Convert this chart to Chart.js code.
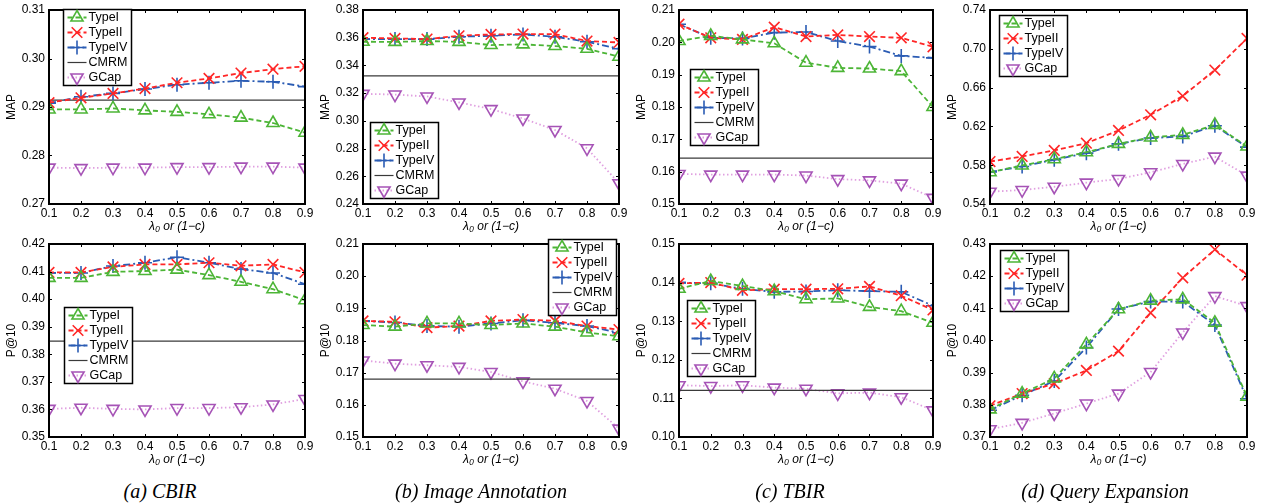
<!DOCTYPE html>
<html>
<head>
<meta charset="utf-8">
<script src="https://cdn.jsdelivr.net/npm/chart.js@4.4.1/dist/chart.umd.min.js"></script>
<style>
    body { margin: 0; width: 1266px; height: 504px; background: #fff; position: relative; overflow: hidden; }
    canvas { position: absolute; }
    .cap { position: absolute; top: 481px; font: italic 20px "Liberation Serif", "Times New Roman", serif; line-height: 1; transform: translateX(-50%); white-space: nowrap; color: #000; }
</style>
</head>
<body>
<script>
// x positions (lambda_0 or 1-c)
const xValues = [0.1, 0.2, 0.3, 0.4, 0.5, 0.6, 0.7, 0.8, 0.9];
const xTicks = [0.1, 0.2, 0.3, 0.4, 0.5, 0.6, 0.7, 0.8, 0.9];
const captions = ['(a) CBIR', '(b) Image Annotation', '(c) TBIR', '(d) Query Expansion'];

// (a) CBIR - MAP
const cbirMapTicks = [0.27, 0.28, 0.29, 0.30, 0.31];
const cbirMapTypeI = [0.2895, 0.2895, 0.2897, 0.2893, 0.2890, 0.2885, 0.2878, 0.2867, 0.2847];
const cbirMapTypeII = [0.2909, 0.2919, 0.2928, 0.2938, 0.2950, 0.2959, 0.2970, 0.2978, 0.2984];
const cbirMapTypeIV = [0.2908, 0.2921, 0.2928, 0.2937, 0.2946, 0.2950, 0.2954, 0.2952, 0.2942];
const cbirMapCMRM = 0.2914;
const cbirMapGCap = [0.2775, 0.2774, 0.2775, 0.2775, 0.2776, 0.2776, 0.2777, 0.2777, 0.2775];

// (b) Image Annotation - MAP
const annoMapTicks = [0.24, 0.26, 0.28, 0.30, 0.32, 0.34, 0.36, 0.38];
const annoMapTypeI = [0.3571, 0.3570, 0.3576, 0.3570, 0.3547, 0.3552, 0.3540, 0.3520, 0.3463];
const annoMapTypeII = [0.3600, 0.3595, 0.3590, 0.3614, 0.3624, 0.3626, 0.3626, 0.3576, 0.3566];
const annoMapTypeIV = [0.3590, 0.3590, 0.3590, 0.3607, 0.3614, 0.3624, 0.3607, 0.3571, 0.3520];
const annoMapCMRM = 0.3324;
const annoMapGCap = [0.3195, 0.3190, 0.3176, 0.3133, 0.3085, 0.3017, 0.2934, 0.2802, 0.2550];

// (c) TBIR - MAP
const tbirMapTicks = [0.15, 0.16, 0.17, 0.18, 0.19, 0.20, 0.21];
const tbirMapTypeI = [0.2004, 0.2020, 0.2009, 0.1997, 0.1937, 0.1921, 0.1919, 0.1911, 0.1800];
const tbirMapTypeII = [0.2056, 0.2014, 0.2009, 0.2047, 0.2018, 0.2023, 0.2018, 0.2014, 0.1986];
const tbirMapTypeIV = [0.2056, 0.2014, 0.2012, 0.2030, 0.2032, 0.2004, 0.1987, 0.1958, 0.1952];
const tbirMapCMRM = 0.1642;
const tbirMapGCap = [0.1593, 0.1591, 0.1591, 0.1591, 0.1588, 0.1577, 0.1573, 0.1563, 0.1519];

// (d) Query Expansion - MAP
const qeMapTicks = [0.54, 0.58, 0.62, 0.66, 0.70, 0.74];
const qeMapTypeI = [0.5728, 0.5797, 0.5862, 0.5934, 0.6020, 0.6086, 0.6113, 0.6216, 0.5993];
const qeMapTypeII = [0.5838, 0.5890, 0.5952, 0.6027, 0.6158, 0.6320, 0.6513, 0.6781, 0.7107];
const qeMapTypeIV = [0.5730, 0.5787, 0.5856, 0.5924, 0.6020, 0.6080, 0.6097, 0.6207, 0.5986];
const qeMapGCap = [0.5527, 0.5544, 0.5578, 0.5620, 0.5658, 0.5727, 0.5813, 0.5888, 0.5693];

// (a) CBIR - P@10
const cbirP10Ticks = [0.35, 0.36, 0.37, 0.38, 0.39, 0.40, 0.41, 0.42];
const cbirP10TypeI = [0.4077, 0.4077, 0.4099, 0.4102, 0.4107, 0.4087, 0.4063, 0.4036, 0.3996];
const cbirP10TypeII = [0.4097, 0.4097, 0.4117, 0.4126, 0.4126, 0.4132, 0.4121, 0.4126, 0.4097];
const cbirP10TypeIV = [0.4095, 0.4095, 0.4120, 0.4132, 0.4152, 0.4132, 0.4109, 0.4095, 0.4054];
const cbirP10CMRM = 0.3848;
const cbirP10GCap = [0.3602, 0.3606, 0.3602, 0.3600, 0.3605, 0.3605, 0.3608, 0.3618, 0.3638];

// (b) Image Annotation - P@10
const annoP10Ticks = [0.15, 0.16, 0.17, 0.18, 0.19, 0.20, 0.21];
const annoP10TypeI = [0.1848, 0.1843, 0.1853, 0.1853, 0.1848, 0.1853, 0.1843, 0.1825, 0.1813];
const annoP10TypeII = [0.1861, 0.1858, 0.1840, 0.1845, 0.1861, 0.1865, 0.1861, 0.1845, 0.1834];
const annoP10TypeIV = [0.1861, 0.1856, 0.1845, 0.1843, 0.1853, 0.1863, 0.1855, 0.1845, 0.1824];
const annoP10CMRM = 0.1680;
const annoP10GCap = [0.1738, 0.1728, 0.1723, 0.1718, 0.1702, 0.1673, 0.1650, 0.1612, 0.1526];

// (c) TBIR - P@10
const tbirP10Ticks = [0.10, 0.11, 0.12, 0.13, 0.14, 0.15];
const tbirP10TypeI = [0.1384, 0.1404, 0.1391, 0.1378, 0.1357, 0.1359, 0.1337, 0.1326, 0.1296];
const tbirP10TypeII = [0.1398, 0.1400, 0.1380, 0.1383, 0.1383, 0.1384, 0.1390, 0.1366, 0.1329];
const tbirP10TypeIV = [0.1400, 0.1398, 0.1384, 0.1376, 0.1377, 0.1380, 0.1378, 0.1376, 0.1340];
const tbirP10CMRM = 0.1121;
const tbirP10GCap = [0.1134, 0.1132, 0.1134, 0.1128, 0.1125, 0.1113, 0.1115, 0.1103, 0.1069];

// (d) Query Expansion - P@10
const qeP10Ticks = [0.37, 0.38, 0.39, 0.40, 0.41, 0.42, 0.43];
const qeP10TypeI = [0.3786, 0.3835, 0.3882, 0.3988, 0.4097, 0.4124, 0.4128, 0.4055, 0.3825];
const qeP10TypeII = [0.3797, 0.3835, 0.3866, 0.3907, 0.3967, 0.4086, 0.4195, 0.4283, 0.4203];
const qeP10TypeIV = [0.3783, 0.3830, 0.3874, 0.3978, 0.4098, 0.4121, 0.4121, 0.4048, 0.3819];
const qeP10GCap = [0.3724, 0.3744, 0.3773, 0.3804, 0.3835, 0.3902, 0.4025, 0.4138, 0.4107];

const FONT = '"Liberation Sans", Arial, Helvetica, sans-serif';

// line / marker look of every series
const styles = {
    TypeI:  { line: '#4cb536', point: '#4cb536', dash: [5, 3], pointStyle: 'triangle', radius: 7, rotation: 0 },
    TypeII: { line: '#ff2626', point: '#ff2626', dash: [5, 3], pointStyle: 'crossRot', radius: 7.5, rotation: 0 },
    TypeIV: { line: '#2b5cb4', point: '#2b5cb4', dash: [7, 3, 2, 3], pointStyle: 'cross', radius: 7, rotation: 0 },
    CMRM:   { line: '#3a3a3a', point: '#3a3a3a', dash: [], pointStyle: false, radius: 0, rotation: 0 },
    GCap:   { line: '#e0a0e0', point: '#a653b6', dash: [1.5, 2.5], pointStyle: 'triangle', radius: 7, rotation: 180 }
};

// plot-area pixel boxes
const plotLeft = [49, 363, 679, 990];
const plotRight = [305, 619, 933, 1247];
const plotTop = [10, 244];
const plotBottom = [204, 437];

const panels = [
    { col: 0, row: 0, ylabel: 'MAP', yTicks: cbirMapTicks, legend: { dx: 14, dy: -1 },
      series: { TypeI: cbirMapTypeI, TypeII: cbirMapTypeII, TypeIV: cbirMapTypeIV, CMRM: cbirMapCMRM, GCap: cbirMapGCap } },
    { col: 1, row: 0, ylabel: 'MAP', yTicks: annoMapTicks, legend: { dx: 7, dy: 112 },
      series: { TypeI: annoMapTypeI, TypeII: annoMapTypeII, TypeIV: annoMapTypeIV, CMRM: annoMapCMRM, GCap: annoMapGCap } },
    { col: 2, row: 0, ylabel: 'MAP', yTicks: tbirMapTicks, legend: { dx: 11, dy: 59 },
      series: { TypeI: tbirMapTypeI, TypeII: tbirMapTypeII, TypeIV: tbirMapTypeIV, CMRM: tbirMapCMRM, GCap: tbirMapGCap } },
    { col: 3, row: 0, ylabel: 'MAP', yTicks: qeMapTicks, legend: { dx: 9, dy: 5 },
      series: { TypeI: qeMapTypeI, TypeII: qeMapTypeII, TypeIV: qeMapTypeIV, GCap: qeMapGCap } },
    { col: 0, row: 1, ylabel: 'P@10', yTicks: cbirP10Ticks, legend: { dx: 15, dy: 63 },
      series: { TypeI: cbirP10TypeI, TypeII: cbirP10TypeII, TypeIV: cbirP10TypeIV, CMRM: cbirP10CMRM, GCap: cbirP10GCap } },
    { col: 1, row: 1, ylabel: 'P@10', yTicks: annoP10Ticks, legend: { dx: 185, dy: -5 },
      series: { TypeI: annoP10TypeI, TypeII: annoP10TypeII, TypeIV: annoP10TypeIV, CMRM: annoP10CMRM, GCap: annoP10GCap } },
    { col: 2, row: 1, ylabel: 'P@10', yTicks: tbirP10Ticks, legend: { dx: 8, dy: 56 },
      series: { TypeI: tbirP10TypeI, TypeII: tbirP10TypeII, TypeIV: tbirP10TypeIV, CMRM: tbirP10CMRM, GCap: tbirP10GCap } },
    { col: 3, row: 1, ylabel: 'P@10', yTicks: qeP10Ticks, legend: { dx: 10, dy: 6 },
      series: { TypeI: qeP10TypeI, TypeII: qeP10TypeII, TypeIV: qeP10TypeIV, GCap: qeP10GCap } }
];

// black box round the plot with inward ticks, like MATLAB axes
const frameBox = {
    id: 'frameBox',
    afterDatasetsDraw(chart) {
        const { ctx, chartArea: a, scales } = chart;
        ctx.save();
        ctx.strokeStyle = '#000';
        ctx.lineWidth = 1;
        ctx.beginPath();
        scales.x.ticks.forEach(t => {
            const px = Math.round(scales.x.getPixelForValue(t.value)) + 0.5;
            ctx.moveTo(px, a.bottom); ctx.lineTo(px, a.bottom - 3);
            ctx.moveTo(px, a.top); ctx.lineTo(px, a.top + 3);
        });
        scales.y.ticks.forEach(t => {
            const py = Math.round(scales.y.getPixelForValue(t.value)) + 0.5;
            ctx.moveTo(a.left, py); ctx.lineTo(a.left + 3, py);
            ctx.moveTo(a.right, py); ctx.lineTo(a.right - 3, py);
        });
        ctx.stroke();
        ctx.lineWidth = 2;
        ctx.strokeRect(a.left, a.top, a.right - a.left, a.bottom - a.top);
        ctx.restore();
    }
};

// boxed legend placed inside the plot
const legendBox = {
    id: 'legendBox',
    afterDraw(chart, args, opts) {
        const { ctx, chartArea } = chart;
        const rows = chart.data.datasets;
        const drawPoint = Chart.helpers && Chart.helpers.drawPoint;
        ctx.save();
        ctx.font = '12.5px ' + FONT;
        const textW = Math.max(...rows.map(d => ctx.measureText(d.label).width));
        const x0 = Math.round(chartArea.left + opts.dx) + 0.5;
        const y0 = Math.round(chartArea.top + opts.dy) + 0.5;
        const w = Math.round(25 + textW + 4);
        const h = rows.length * 15 + 1;
        ctx.fillStyle = '#fff';
        ctx.fillRect(x0, y0, w, h);
        ctx.strokeStyle = '#000';
        ctx.lineWidth = 1.5;
        ctx.strokeRect(x0, y0, w, h);
        rows.forEach((d, i) => {
            const cy = y0 + 8 + i * 15;
            ctx.setLineDash(d.borderDash || []);
            ctx.strokeStyle = d.borderColor;
            ctx.lineWidth = d.borderWidth;
            ctx.beginPath();
            ctx.moveTo(x0 + 4, cy);
            ctx.lineTo(x0 + 23, cy);
            ctx.stroke();
            ctx.setLineDash([]);
            if (d.pointStyle && drawPoint) {
                ctx.strokeStyle = d.pointBorderColor;
                ctx.fillStyle = 'rgba(0,0,0,0)';
                ctx.lineWidth = d.pointBorderWidth;
                drawPoint(ctx, { pointStyle: d.pointStyle, rotation: d.pointRotation, radius: d.pointRadius, borderWidth: d.pointBorderWidth }, x0 + 13.5, cy);
            }
            ctx.fillStyle = '#000';
            ctx.textBaseline = 'middle';
            ctx.textAlign = 'left';
            ctx.fillText(d.label, x0 + 25, cy + 0.5);
        });
        ctx.restore();
    }
};

function buildDatasets(series) {
    return Object.keys(series).map(name => {
        const s = styles[name];
        const values = series[name];
        const data = Array.isArray(values)
            ? values.map((v, i) => ({ x: xValues[i], y: v }))
            : [{ x: xValues[0], y: values }, { x: xValues[xValues.length - 1], y: values }];
        return {
            label: name,
            data: data,
            borderColor: s.line,
            borderWidth: name === 'CMRM' ? 1.2 : 1.8,
            borderDash: s.dash,
            pointStyle: s.pointStyle,
            pointRotation: s.rotation,
            pointRadius: s.radius,
            pointBorderColor: s.point,
            pointBackgroundColor: 'rgba(0,0,0,0)',
            pointBorderWidth: 1.6,
            fill: false,
            tension: 0
        };
    });
}

panels.forEach(p => {
    const left = plotLeft[p.col] - 49;
    const top = plotTop[p.row] - 10;
    const width = plotRight[p.col] - plotLeft[p.col] + 49 + 14;
    const height = plotBottom[p.row] - plotTop[p.row] + 10 + 30;

    const canvas = document.createElement('canvas');
    canvas.width = width;
    canvas.height = height;
    canvas.style.left = left + 'px';
    canvas.style.top = top + 'px';
    canvas.style.width = width + 'px';
    canvas.style.height = height + 'px';
    document.body.appendChild(canvas);

    new Chart(canvas, {
        type: 'line',
        data: { datasets: buildDatasets(p.series) },
        options: {
            responsive: false,
            animation: false,
            devicePixelRatio: 1,
            layout: { padding: { left: 0, top: 10, right: 14, bottom: 0 } },
            plugins: {
                legend: { display: false },
                tooltip: { enabled: false },
                legendBox: p.legend
            },
            scales: {
                x: {
                    type: 'linear',
                    min: xTicks[0],
                    max: xTicks[xTicks.length - 1],
                    afterBuildTicks: s => { s.ticks = xTicks.map(v => ({ value: v })); },
                    afterFit: s => { s.height = 30; s.paddingLeft = 0; s.paddingRight = 0; },
                    grid: { display: false, drawTicks: false, tickLength: 0 },
                    border: { display: false },
                    ticks: {
                        autoSkip: false, maxRotation: 0, padding: 2, color: '#000',
                        font: { size: 12, family: FONT },
                        callback: v => v.toFixed(1)
                    },
                    title: {
                        display: true, text: 'λ₀ or (1−c)', color: '#000', padding: { top: 0, bottom: 0 },
                        font: { size: 12, family: FONT, style: 'italic' }
                    }
                },
                y: {
                    type: 'linear',
                    min: p.yTicks[0],
                    max: p.yTicks[p.yTicks.length - 1],
                    afterBuildTicks: s => { s.ticks = p.yTicks.map(v => ({ value: v })); },
                    afterFit: s => { s.width = 49; s.paddingTop = 0; s.paddingBottom = 0; },
                    grid: { display: false, drawTicks: false, tickLength: 0 },
                    border: { display: false },
                    ticks: {
                        padding: 4, color: '#000',
                        font: { size: 12, family: FONT },
                        callback: v => v.toFixed(2)
                    },
                    title: {
                        display: true, text: p.ylabel, color: '#000', padding: { top: 4, bottom: 0 },
                        font: { size: 12, family: FONT }
                    }
                }
            }
        },
        plugins: [frameBox, legendBox]
    });
});

// sub-figure captions
const capCenters = [160, 481, 790, 1105];
captions.forEach((c, i) => {
    const div = document.createElement('div');
    div.className = 'cap';
    div.style.left = capCenters[i] + 'px';
    div.textContent = c;
    document.body.appendChild(div);
});
</script>
</body>
</html>
